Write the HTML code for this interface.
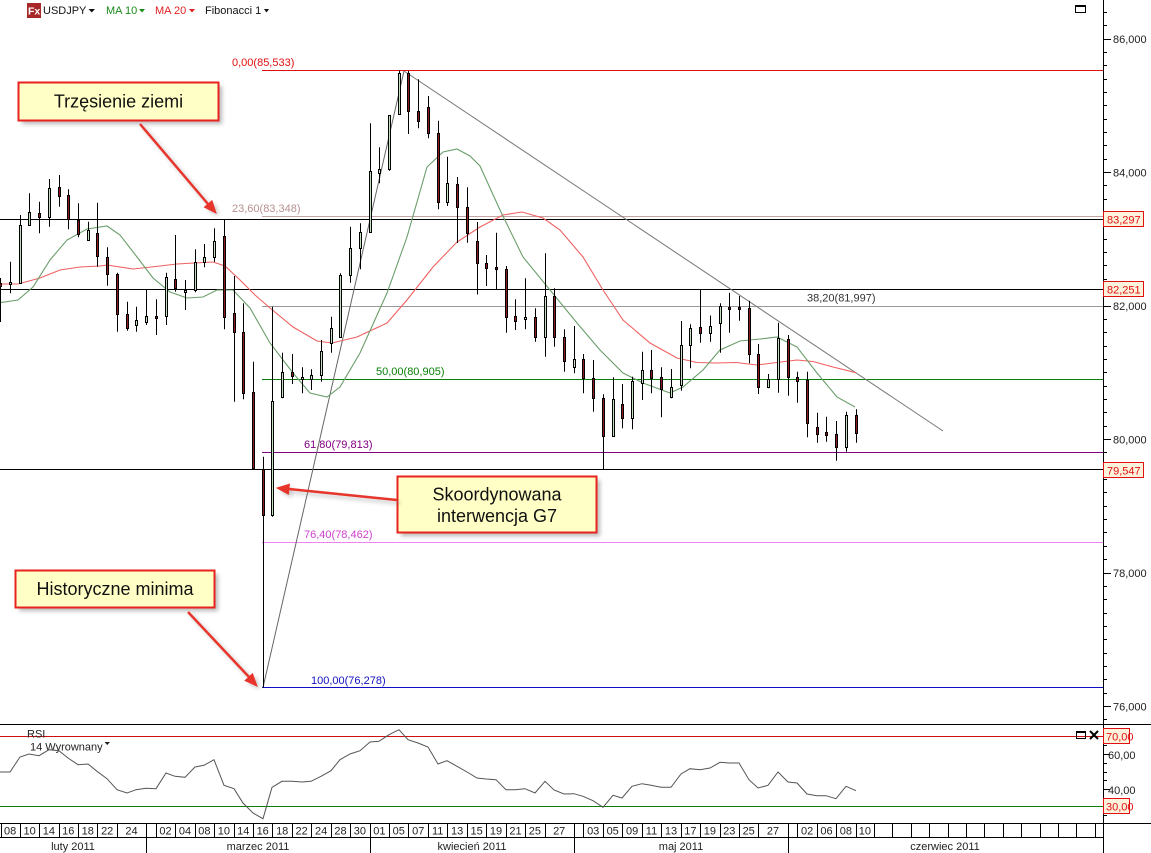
<!DOCTYPE html>
<html><head><meta charset="utf-8"><style>
html,body{margin:0;padding:0;background:#fff;}
svg{display:block;}
text{font-family:"Liberation Sans",Arial,sans-serif;}
</style></head><body>
<svg width="1151" height="853" viewBox="0 0 1151 853" xmlns="http://www.w3.org/2000/svg">
<defs>
<filter id="sh" x="-20%" y="-20%" width="140%" height="160%"><feGaussianBlur stdDeviation="2"/></filter>
<clipPath id="main"><rect x="0" y="0" width="1103" height="724"/></clipPath>
<clipPath id="rsi"><rect x="0" y="725" width="1103" height="99"/></clipPath>
</defs>
<rect width="1151" height="853" fill="#fff"/>

<!-- header -->
<rect x="27" y="3" width="14" height="15" fill="#a8282a"/>
<text x="28" y="14.5" font-size="10.5" font-weight="bold" fill="#fff">Fx</text>
<text x="43" y="14" font-size="11" fill="#111">USDJPY</text>
<polygon points="88.5,9 95,9 91.75,12.5" fill="#111"/>
<text x="106" y="14" font-size="11" fill="#1a8a1a">MA 10</text>
<polygon points="139,9 145,9 142,12.5" fill="#1a8a1a"/>
<text x="155" y="14" font-size="11" fill="#e02020">MA 20</text>
<polygon points="189,9 195,9 192,12.5" fill="#e02020"/>
<text x="205" y="14" font-size="11" fill="#111">Fibonacci 1</text>
<polygon points="264,9 269,9 266.5,12.5" fill="#111"/>
<rect x="1075.5" y="5.5" width="10" height="7" fill="none" stroke="#000"/>
<rect x="1075" y="5" width="11" height="2" fill="#000"/>

<g clip-path="url(#main)">
<g stroke="#000" stroke-width="1">
<line x1="0" y1="219.5" x2="1103" y2="219.5"/>
<line x1="0" y1="289.5" x2="1103" y2="289.5"/>
<line x1="0" y1="469.5" x2="1103" y2="469.5"/>
</g>
<line x1="262" y1="70.5" x2="1103" y2="70.5" stroke="#e01010"/>
<line x1="262" y1="216.5" x2="1103" y2="216.5" stroke="#c4a4a4"/>
<line x1="262" y1="306.5" x2="1103" y2="306.5" stroke="#999"/>
<line x1="262" y1="379.5" x2="1103" y2="379.5" stroke="#0a800a"/>
<line x1="262" y1="452.5" x2="1103" y2="452.5" stroke="#800080"/>
<line x1="262" y1="542.5" x2="1103" y2="542.5" stroke="#ee82ee"/>
<line x1="262" y1="687.5" x2="1103" y2="687.5" stroke="#1010c0"/>
<g font-size="11">
<text x="232" y="66" fill="#e01010">0,00(85,533)</text>
<text x="232" y="212" fill="#b89090">23,60(83,348)</text>
<text x="807" y="301.5" fill="#333">38,20(81,997)</text>
<text x="376" y="375" fill="#0a800a">50,00(80,905)</text>
<text x="304" y="448" fill="#800080">61,80(79,813)</text>
<text x="304" y="538" fill="#d040d0">76,40(78,462)</text>
<text x="311" y="684" fill="#1010c0">100,00(76,278)</text>
</g>
<line x1="263" y1="687.5" x2="404" y2="71" stroke="#666" stroke-width="1"/>
<line x1="404" y1="71" x2="943" y2="431" stroke="#777" stroke-width="1"/>

<polyline fill="none" stroke="#f06060" stroke-width="1.1" points="0,284 18,284 40,278 60,270 80,267 100,266 107,265 133,269 160,266 177,264 203,262.5 213,262 225,266 240,280 255,295 270,308 293,327 317,341 332,343 357,337 387,323 407,300 433,267 457,242 480,227 503,215 522,212 543,218 560,230 583,257 603,290 623,320 650,343 677,358 697,362.5 717,363 736,362.5 757,365 777,362.5 797,360 813,361.5 833,367 856,372.7"/>
<polyline fill="none" stroke="#6a9e6a" stroke-width="1.1" points="0,302.7 18,300 33,287 50,260 67,240 87,229 107,226 120,235 137,257 153,278 170,292 187,298 203,297 217,290 233,290 250,308 270,343 293,373 310,393 327,397 340,387 360,353 387,293 407,237 427,167 443,152 457,149 470,156 480,166 500,210 523,257 550,290 577,323 600,350 623,373 643,383 670,393 683,387 703,370 720,350 740,341 760,339 777,337 797,347 817,373 837,397 855,407"/>

<path stroke="#000" stroke-width="1" fill="none" d="M0.5 278V322M10.5 261.7V293.3M20.5 215V283M29.5 193.3V225.7M39.5 201.7V233.3M49.5 179V226.7M59.5 175V206.7M68.5 189.3V229.3M78.5 203.3V237.3M88.5 221.7V240M97.5 202.7V266.7M107.5 247.3V285.7M117.5 272.7V331.7M127.5 301.7V330.7M136.5 306.7V331.7M146.5 289.3V325M156.5 299.3V335M166.5 272.7V325M175.5 235V291.7M185.5 280V310M195.5 249.3V292.3M204.5 244V267.3M214.5 228.3V261.7M224.5 219.5V329.3M234.5 276V401.7M243.5 303.3V399.3M253.5 361.7V469.3M263.5 456.7V687.5M272.5 306.7V516.7M282.5 352.7V398.3M292.5 354V384M302.5 367.3V393.3M311.5 369.3V390M321.5 340V381.7M331.5 316.7V352.7M340.5 273.3V337.3M350.5 226.7V282.7M360.5 223.3V269.3M370.5 123.3V232.7M379.5 147.3V183.3M389.5 115V170.7M399.5 70.5V115M408.5 71V134M418.5 79.3V128.3M428.5 96V138.3M438.5 120.7V209.3M447.5 156.7V206M457.5 177V243M467.5 187.3V242.7M477.5 222V294.5M486.5 255V286M496.5 232.7V289.3M506.5 266V332.7M515.5 299.3V330M525.5 278.3V329.3M535.5 308.3V341.7M545.5 253.3V356.7M554.5 288.3V346.7M564.5 329.3V371.7M574.5 326V373.3M583.5 354V393.3M593.5 360V411.7M603.5 394.3V470M613.5 377.3V436.7M622.5 384V428.3M632.5 376.7V429.3M642.5 351.7V400M651.5 350V393.3M661.5 367.3V417.3M671.5 369V398.3M681.5 321V390.7M690.5 324.3V368.3M700.5 289.5V342.7M710.5 315.5V341.7M720.5 303.3V352.7M729.5 292.7V332.7M739.5 296V320.7M749.5 300.7V363.3M758.5 344V394M768.5 374V388.3M778.5 322.7V392.7M788.5 335V395.7M797.5 371.7V402.7M807.5 371.7V437.3M817.5 412.7V442.7M826.5 416.7V441.7M836.5 421V460.7M846.5 411.7V451.7M856.5 409.3V442.7"/>
<g stroke="#000" stroke-width="1">
<g fill="#8c1c1c">
<rect x="-0.5" y="283.5" width="2" height="3"/>
<rect x="38.5" y="213.5" width="2" height="4"/>
<rect x="58.5" y="187.5" width="2" height="9"/>
<rect x="67.5" y="195.5" width="2" height="24"/>
<rect x="77.5" y="220.5" width="2" height="14"/>
<rect x="96.5" y="233.5" width="2" height="23"/>
<rect x="106.5" y="257.5" width="2" height="17"/>
<rect x="116.5" y="274.5" width="2" height="40"/>
<rect x="126.5" y="314.5" width="2" height="14"/>
<rect x="155.5" y="316.5" width="2" height="2"/>
<rect x="174.5" y="279.5" width="2" height="9"/>
<rect x="223.5" y="236.5" width="2" height="81"/>
<rect x="233.5" y="313.5" width="2" height="19"/>
<rect x="242.5" y="332.5" width="2" height="61"/>
<rect x="252.5" y="392.5" width="2" height="76"/>
<rect x="262.5" y="469.5" width="2" height="46"/>
<rect x="291.5" y="372.5" width="2" height="4"/>
<rect x="407.5" y="73.5" width="2" height="38"/>
<rect x="417.5" y="111.5" width="2" height="10"/>
<rect x="427.5" y="107.5" width="2" height="26"/>
<rect x="437.5" y="133.5" width="2" height="69"/>
<rect x="456.5" y="184.5" width="2" height="23"/>
<rect x="466.5" y="207.5" width="2" height="26"/>
<rect x="476.5" y="241.5" width="2" height="22"/>
<rect x="485.5" y="263.5" width="2" height="5"/>
<rect x="495.5" y="267.5" width="2" height="2"/>
<rect x="505.5" y="269.5" width="2" height="48"/>
<rect x="514.5" y="316.5" width="2" height="5"/>
<rect x="534.5" y="317.5" width="2" height="20"/>
<rect x="553.5" y="296.5" width="2" height="41"/>
<rect x="563.5" y="337.5" width="2" height="24"/>
<rect x="582.5" y="359.5" width="2" height="19"/>
<rect x="592.5" y="378.5" width="2" height="20"/>
<rect x="602.5" y="398.5" width="2" height="38"/>
<rect x="621.5" y="404.5" width="2" height="14"/>
<rect x="650.5" y="370.5" width="2" height="8"/>
<rect x="660.5" y="377.5" width="2" height="12"/>
<rect x="699.5" y="327.5" width="2" height="6"/>
<rect x="728.5" y="307.5" width="2" height="2"/>
<rect x="738.5" y="307.5" width="2" height="2"/>
<rect x="748.5" y="308.5" width="2" height="46"/>
<rect x="757.5" y="354.5" width="2" height="33"/>
<rect x="787.5" y="339.5" width="2" height="38"/>
<rect x="796.5" y="377.5" width="2" height="4"/>
<rect x="806.5" y="380.5" width="2" height="43"/>
<rect x="816.5" y="427.5" width="2" height="7"/>
<rect x="825.5" y="432.5" width="2" height="3"/>
<rect x="835.5" y="434.5" width="2" height="13"/>
<rect x="855.5" y="415.5" width="2" height="18"/>
</g>
<g fill="#c4e2bf">
<rect x="9.5" y="282.5" width="2" height="2"/>
<rect x="19.5" y="225.5" width="2" height="58"/>
<rect x="28.5" y="212.5" width="2" height="13"/>
<rect x="48.5" y="188.5" width="2" height="29"/>
<rect x="87.5" y="230.5" width="2" height="10"/>
<rect x="135.5" y="320.5" width="2" height="5"/>
<rect x="145.5" y="316.5" width="2" height="6"/>
<rect x="165.5" y="277.5" width="2" height="39"/>
<rect x="184.5" y="290.5" width="2" height="2"/>
<rect x="194.5" y="262.5" width="2" height="28"/>
<rect x="203.5" y="257.5" width="2" height="5"/>
<rect x="213.5" y="241.5" width="2" height="16"/>
<rect x="271.5" y="401.5" width="2" height="114"/>
<rect x="281.5" y="372.5" width="2" height="25"/>
<rect x="301.5" y="377.5" width="2" height="2"/>
<rect x="310.5" y="375.5" width="2" height="4"/>
<rect x="320.5" y="351.5" width="2" height="24"/>
<rect x="330.5" y="328.5" width="2" height="15"/>
<rect x="339.5" y="275.5" width="2" height="62"/>
<rect x="349.5" y="248.5" width="2" height="27"/>
<rect x="359.5" y="232.5" width="2" height="16"/>
<rect x="369.5" y="171.5" width="2" height="61"/>
<rect x="378.5" y="169.5" width="2" height="4"/>
<rect x="388.5" y="115.5" width="2" height="54"/>
<rect x="398.5" y="73.5" width="2" height="41"/>
<rect x="446.5" y="183.5" width="2" height="19"/>
<rect x="524.5" y="317.5" width="2" height="2"/>
<rect x="544.5" y="296.5" width="2" height="41"/>
<rect x="573.5" y="359.5" width="2" height="8"/>
<rect x="612.5" y="399.5" width="2" height="37"/>
<rect x="631.5" y="381.5" width="2" height="37"/>
<rect x="641.5" y="370.5" width="2" height="13"/>
<rect x="670.5" y="387.5" width="2" height="10"/>
<rect x="680.5" y="345.5" width="2" height="40"/>
<rect x="689.5" y="328.5" width="2" height="17"/>
<rect x="709.5" y="326.5" width="2" height="7"/>
<rect x="719.5" y="306.5" width="2" height="17"/>
<rect x="767.5" y="379.5" width="2" height="8"/>
<rect x="777.5" y="338.5" width="2" height="41"/>
<rect x="845.5" y="415.5" width="2" height="32"/>
</g>
</g>
</g>

<!-- callouts -->
<g>
<rect x="22" y="86" width="200" height="38" fill="#888" opacity="0.6" filter="url(#sh)"/>
<rect x="18.5" y="82.5" width="200" height="38" fill="#ffffc6" stroke="#e8231d" stroke-width="2"/>
<text x="118.5" y="107.5" font-size="18" text-anchor="middle" fill="#111">Trzęsienie ziemi</text>

<rect x="401" y="480" width="199" height="56" fill="#888" opacity="0.6" filter="url(#sh)"/>
<rect x="397.5" y="476.5" width="199" height="56" fill="#ffffc6" stroke="#e8231d" stroke-width="2"/>
<text x="497" y="500.5" font-size="18" text-anchor="middle" fill="#111">Skoordynowana</text>
<text x="497" y="522" font-size="18" text-anchor="middle" fill="#111">interwencja G7</text>

<rect x="19" y="574" width="199" height="37" fill="#888" opacity="0.6" filter="url(#sh)"/>
<rect x="15.5" y="570.5" width="199" height="37" fill="#ffffc6" stroke="#e8231d" stroke-width="2"/>
<text x="115" y="595" font-size="18" text-anchor="middle" fill="#111">Historyczne minima</text>

<g opacity="0.45" filter="url(#sh)" transform="translate(3,3)">
<line x1="140" y1="124" x2="208" y2="204" stroke="#777" stroke-width="2.5"/>
<polygon points="216,213 204.4,207.2 212,200.7" fill="#777"/>
<line x1="397" y1="500" x2="289" y2="489" stroke="#777" stroke-width="2.5"/>
<polygon points="277,488 289.4,484.2 288.4,494.2" fill="#777"/>
<line x1="188" y1="612" x2="249" y2="677" stroke="#777" stroke-width="2.5"/>
<polygon points="257,686 245.1,680.6 252.5,673.8" fill="#777"/>
</g>
<g fill="#e8352c" stroke="#e8352c">
<line x1="140" y1="124" x2="208" y2="204" stroke-width="2.5"/>
<polygon points="216,213 204.4,207.2 212,200.7" stroke-width="1"/>
<line x1="397" y1="500" x2="289" y2="489" stroke-width="2.5"/>
<polygon points="277,488 289.4,484.2 288.4,494.2" stroke-width="1"/>
<line x1="188" y1="612" x2="249" y2="677" stroke-width="2.5"/>
<polygon points="257,686 245.1,680.6 252.5,673.8" stroke-width="1"/>
</g>
</g>

<!-- RSI panel -->
<line x1="0" y1="724.5" x2="1151" y2="724.5" stroke="#000"/>
<line x1="0" y1="736.5" x2="1103" y2="736.5" stroke="#d01010"/>
<line x1="0" y1="806.5" x2="1103" y2="806.5" stroke="#0a800a"/>
<text x="27" y="737.5" font-size="11" fill="#222">RSI</text>
<text x="30" y="750.5" font-size="11" fill="#222">14 Wyrownany</text>
<polygon points="104.5,742 110,742 107.25,745" fill="#222"/>
<g clip-path="url(#rsi)">
<polyline fill="none" stroke="#555" stroke-width="1" points="0,772 10,772 20,757 29,754 39,755.7 49,749.7 59,750.7 68,758 78,764.7 88,764 97,771.3 107,778.7 117,789.7 127,793 136,789.7 146,788.3 156,788.7 166,773 175,776.3 185,777.3 195,767 204,765.3 214,759.7 224,785.3 234,788.7 243,803 253,813 263,818.7 272,787.3 282,781.3 292,781.3 302,782 311,781.3 321,776.3 331,770.7 340,759.7 350,754 360,750.7 370,742 379,741.3 389,734.7 399,729.7 408,739.7 418,743 428,747 438,764 447,760.7 457,766.3 467,772 477,778 486,779 496,779.7 506,789.7 515,789.7 525,788.7 535,793 545,781.3 554,790 564,794 574,793.7 583,796.3 593,800.7 603,807.3 613,795.3 622,798 632,786.3 642,783.7 651,785.3 661,787.3 671,787.3 681,774 690,768.7 700,769.7 710,768 720,762.3 729,763 739,763 749,779.7 758,788 768,785.3 778,772 788,782 797,783 807,794 817,795.7 826,795.7 836,798.7 846,786.3 856,790.7"/>
</g>
<rect x="1076.5" y="731.5" width="9" height="7" fill="none" stroke="#000"/>
<rect x="1076" y="731" width="10" height="2" fill="#000"/>
<path d="M1090 731L1098 739M1098 731L1090 739" stroke="#000" stroke-width="2"/>

<!-- right axis -->
<line x1="1103.5" y1="0" x2="1103.5" y2="853" stroke="#000"/>
<path stroke="#000" stroke-width="1" d="M1103 12.5h4M1103 25.5h4M1103 39.5h8M1103 52.5h4M1103 65.5h4M1103 79.5h4M1103 92.5h4M1103 105.5h4M1103 119.5h4M1103 132.5h4M1103 145.5h4M1103 159.5h4M1103 172.5h8M1103 185.5h4M1103 199.5h4M1103 212.5h4M1103 225.5h4M1103 239.5h4M1103 252.5h4M1103 265.5h4M1103 279.5h4M1103 292.5h4M1103 306.5h8M1103 319.5h4M1103 332.5h4M1103 346.5h4M1103 359.5h4M1103 372.5h4M1103 386.5h4M1103 399.5h4M1103 412.5h4M1103 426.5h4M1103 439.5h8M1103 452.5h4M1103 466.5h4M1103 479.5h4M1103 492.5h4M1103 506.5h4M1103 519.5h4M1103 532.5h4M1103 546.5h4M1103 559.5h4M1103 573.5h8M1103 586.5h4M1103 599.5h4M1103 613.5h4M1103 626.5h4M1103 639.5h4M1103 653.5h4M1103 666.5h4M1103 679.5h4M1103 693.5h4M1103 706.5h8M1103 719.5h4M1103 728.5h4M1103 745.5h4M1103 754.5h7M1103 763.5h4M1103 772.5h4M1103 780.5h4M1103 789.5h7M1103 798.5h4M1103 815.5h4"/>
<g font-size="11" fill="#222">
<text x="1113" y="43">86,000</text>
<text x="1113" y="176.5">84,000</text>
<text x="1113" y="310">82,000</text>
<text x="1113" y="443.5">80,000</text>
<text x="1113" y="577">78,000</text>
<text x="1113" y="710.5">76,000</text>
<text x="1108" y="759">60,00</text>
<text x="1108" y="794">40,00</text>
</g>
<g font-size="11" fill="#e01010">
<rect x="1103.5" y="211.5" width="40" height="15" fill="#fdf2dc" stroke="#e01010"/>
<text x="1107" y="223.3">83,297</text>
<rect x="1103.5" y="281.5" width="40" height="15" fill="#fdf2dc" stroke="#e01010"/>
<text x="1107" y="293.3">82,251</text>
<rect x="1103.5" y="462.5" width="40" height="15" fill="#fdf2dc" stroke="#e01010"/>
<text x="1107" y="474.3">79,547</text>
<rect x="1103.5" y="728.5" width="26" height="15" fill="#fdf2dc" stroke="#e01010"/>
<text x="1106" y="740.3">70,00</text>
<rect x="1103.5" y="798.5" width="26" height="15" fill="#fdf2dc" stroke="#e01010"/>
<text x="1106" y="810.3">30,00</text>
</g>

<!-- date axis -->
<line x1="0" y1="823.5" x2="1151" y2="823.5" stroke="#000"/>
<line x1="0" y1="837.5" x2="1103" y2="837.5" stroke="#000"/>
<path stroke="#000" stroke-width="1" d="M1.5 824V837M20.5 824V837M39.5 824V837M59.5 824V837M78.5 824V837M97.5 824V837M117.5 824V837M146.5 824V853M156.5 824V837M175.5 824V837M195.5 824V837M214.5 824V837M234.5 824V837M253.5 824V837M272.5 824V837M292.5 824V837M311.5 824V837M331.5 824V837M350.5 824V837M370.5 824V853M389.5 824V837M408.5 824V837M428.5 824V837M447.5 824V837M467.5 824V837M486.5 824V837M506.5 824V837M525.5 824V837M545.5 824V837M574.5 824V853M583.5 824V837M603.5 824V837M622.5 824V837M642.5 824V837M661.5 824V837M681.5 824V837M700.5 824V837M720.5 824V837M739.5 824V837M758.5 824V837M788.5 824V853M797.5 824V837M817.5 824V837M836.5 824V837M856.5 824V837M874.5 824V837M892.5 824V837M911.5 824V837M929.5 824V837M948.5 824V837M966.5 824V837M984.5 824V837M1003.5 824V837M1021.5 824V837M1040.5 824V837M1058.5 824V837M1076.5 824V837M1095.5 824V837"/>
<g font-size="11" fill="#222" text-anchor="middle">
<text x="10.1" y="834.5">08</text>
<text x="29.6" y="834.5">10</text>
<text x="48.9" y="834.5">14</text>
<text x="68.3" y="834.5">16</text>
<text x="87.8" y="834.5">18</text>
<text x="107.2" y="834.5">22</text>
<text x="131.5" y="834.5">24</text>
<text x="165.5" y="834.5">02</text>
<text x="185" y="834.5">04</text>
<text x="204.4" y="834.5">08</text>
<text x="223.9" y="834.5">10</text>
<text x="243.3" y="834.5">14</text>
<text x="262.7" y="834.5">16</text>
<text x="282.2" y="834.5">18</text>
<text x="301.6" y="834.5">22</text>
<text x="321.1" y="834.5">24</text>
<text x="340.5" y="834.5">28</text>
<text x="359.9" y="834.5">30</text>
<text x="379.4" y="834.5">01</text>
<text x="398.8" y="834.5">05</text>
<text x="418.3" y="834.5">07</text>
<text x="437.7" y="834.5">11</text>
<text x="457.1" y="834.5">13</text>
<text x="476.6" y="834.5">15</text>
<text x="496" y="834.5">19</text>
<text x="515.5" y="834.5">21</text>
<text x="534.9" y="834.5">25</text>
<text x="559.2" y="834.5">27</text>
<text x="593.2" y="834.5">03</text>
<text x="612.7" y="834.5">05</text>
<text x="632.1" y="834.5">09</text>
<text x="651.5" y="834.5">11</text>
<text x="671" y="834.5">13</text>
<text x="690.4" y="834.5">17</text>
<text x="709.9" y="834.5">19</text>
<text x="729.3" y="834.5">23</text>
<text x="748.7" y="834.5">25</text>
<text x="773" y="834.5">27</text>
<text x="807.1" y="834.5">02</text>
<text x="826.5" y="834.5">06</text>
<text x="845.9" y="834.5">08</text>
<text x="864.9" y="834.5">10</text>
<text x="73" y="850">luty 2011</text>
<text x="258" y="850">marzec 2011</text>
<text x="472" y="850">kwiecień 2011</text>
<text x="681" y="850">maj 2011</text>
<text x="945" y="850">czerwiec 2011</text>
</g>
</svg>
</body></html>
